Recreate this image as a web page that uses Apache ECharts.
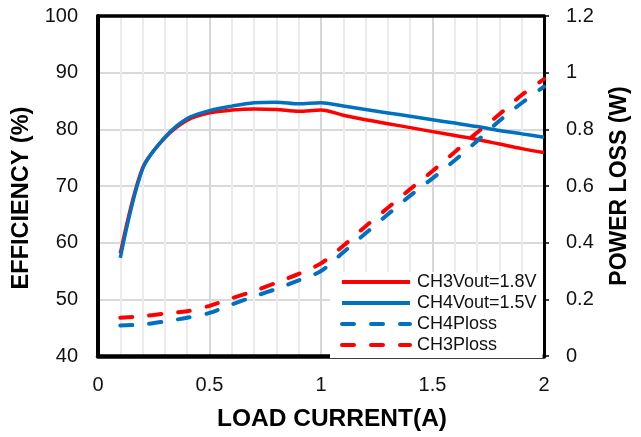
<!DOCTYPE html>
<html>
<head>
<meta charset="utf-8">
<script src="https://cdn.jsdelivr.net/npm/echarts@6/dist/echarts.min.js"></script>
<style>
html,body{margin:0;padding:0;background:#fff;}
#chart{width:641px;height:437px;}
</style>
</head>
<body>
<div id="chart"></div>
<script>
var loadCurrent = [0.1,0.2,0.3,0.4,0.5,0.6,0.7,0.8,0.9,1.0,1.1,1.2,1.3,1.4,1.5,1.6,1.7,1.8,1.9,2.0];
var ch3Eff   = [58.1,73.2,78.5,81.6,82.9,83.4,83.6,83.5,83.2,83.4,82.5,81.7,81.0,80.3,79.6,78.9,78.2,77.4,76.6,75.9];
var ch4Eff   = [57.3,73.0,78.6,81.9,83.3,84.1,84.7,84.8,84.5,84.7,84.1,83.5,82.9,82.3,81.7,81.1,80.5,79.8,79.2,78.6];
var ch4Ploss = [0.108,0.111,0.122,0.135,0.152,0.182,0.210,0.237,0.267,0.300,0.366,0.433,0.500,0.566,0.627,0.691,0.759,0.830,0.893,0.951];
var ch3Ploss = [0.135,0.140,0.150,0.158,0.177,0.204,0.229,0.259,0.290,0.327,0.389,0.458,0.523,0.589,0.653,0.720,0.789,0.853,0.921,0.977];
var seriesNames = ['CH3Vout=1.8V','CH4Vout=1.5V','CH4Ploss','CH3Ploss'];

function pairs(ys){ return loadCurrent.map(function(x,i){ return [x, ys[i]]; }); }

var RED = '#FF0000', BLUE = '#0070C0';
var FONT = 'Arial, "Liberation Sans", sans-serif';

var chart = echarts.init(document.getElementById('chart'), null, {renderer:'canvas'});
chart.setOption({
  animation:false,
  backgroundColor:'#fff',
  grid:{left:98,right:97,top:16,bottom:76,containLabel:false},
  legend:{
    orient:'vertical',
    left:330, top:272,
    padding:[1,6,4,10],
    backgroundColor:'#fff',
    itemWidth:68, itemHeight:18, itemGap:3,
    lineStyle:{width:4},
    itemStyle:{opacity:0,borderWidth:0},
    textStyle:{fontFamily:FONT,fontSize:18,color:'#111',padding:[0,0,0,2]},
    data:seriesNames
  },
  xAxis:[{
    type:'value', min:0, max:2, interval:0.5,
    name:'LOAD CURRENT(A)', nameLocation:'middle', nameGap:51,
    nameTextStyle:{fontFamily:FONT,fontSize:24.5,fontWeight:'bold',color:'#000',padding:[0,0,0,22]},
    axisLine:{show:true,onZero:false,lineStyle:{color:'#000',width:4.5}},
    axisTick:{show:false},
    axisLabel:{fontFamily:FONT,fontSize:20,color:'#111',margin:19},
    splitLine:{show:true,lineStyle:{color:'#d6d6d6',width:2}},
    minorTick:{show:false,splitNumber:5},
    minorSplitLine:{show:true,lineStyle:{color:'#ebebeb',width:2}}
  },{
    type:'value', min:0, max:2, position:'top',
    axisLine:{show:true,onZero:false,lineStyle:{color:'#000',width:3.5}},
    axisTick:{show:false}, axisLabel:{show:false}, splitLine:{show:false}
  }],
  yAxis:[{
    type:'value', min:40, max:100, interval:10, position:'left',
    name:'EFFICIENCY (%)', nameLocation:'middle', nameGap:62, nameRotate:90,
    nameTextStyle:{fontFamily:FONT,fontSize:23.5,fontWeight:'bold',color:'#000',padding:[0,24,0,0]},
    axisLine:{show:true,onZero:false,lineStyle:{color:'#000',width:4}},
    axisTick:{show:false},
    axisLabel:{fontFamily:FONT,fontSize:20,color:'#111',margin:20},
    splitLine:{show:true,lineStyle:{color:'#d9d9d9',width:2}}
  },{
    type:'value', min:0, max:1.2, interval:0.2, position:'right',
    name:'POWER LOSS (W)', nameLocation:'middle', nameGap:64, nameRotate:90,
    nameTextStyle:{fontFamily:FONT,fontSize:23,fontWeight:'bold',color:'#000'},
    axisLine:{show:true,onZero:false,lineStyle:{color:'#000',width:3}},
    axisTick:{show:true,inside:false,length:5,lineStyle:{color:'#000',width:1.5}},
    axisLabel:{fontFamily:FONT,fontSize:20,color:'#111',margin:22},
    splitLine:{show:false}
  }],
  series:[{
    name:seriesNames[0], type:'line', yAxisIndex:0, data:pairs(ch3Eff),
    smooth:0.3, symbol:'none', lineStyle:{color:RED,width:3.5}, itemStyle:{color:RED}, z:3
  },{
    name:seriesNames[1], type:'line', yAxisIndex:0, data:pairs(ch4Eff),
    smooth:0.3, symbol:'none', lineStyle:{color:BLUE,width:3.5}, itemStyle:{color:BLUE}, z:4
  },{
    name:seriesNames[2], type:'line', yAxisIndex:1, data:pairs(ch4Ploss),
    smooth:0.3, symbol:'none', lineStyle:{color:BLUE,width:4,type:[12,17],cap:'round'}, itemStyle:{color:BLUE}, z:3
  },{
    name:seriesNames[3], type:'line', yAxisIndex:1, data:pairs(ch3Ploss),
    smooth:0.3, symbol:'none', lineStyle:{color:RED,width:4,type:[12,17],cap:'round'}, itemStyle:{color:RED}, z:3
  }]
});
</script>
</body>
</html>
